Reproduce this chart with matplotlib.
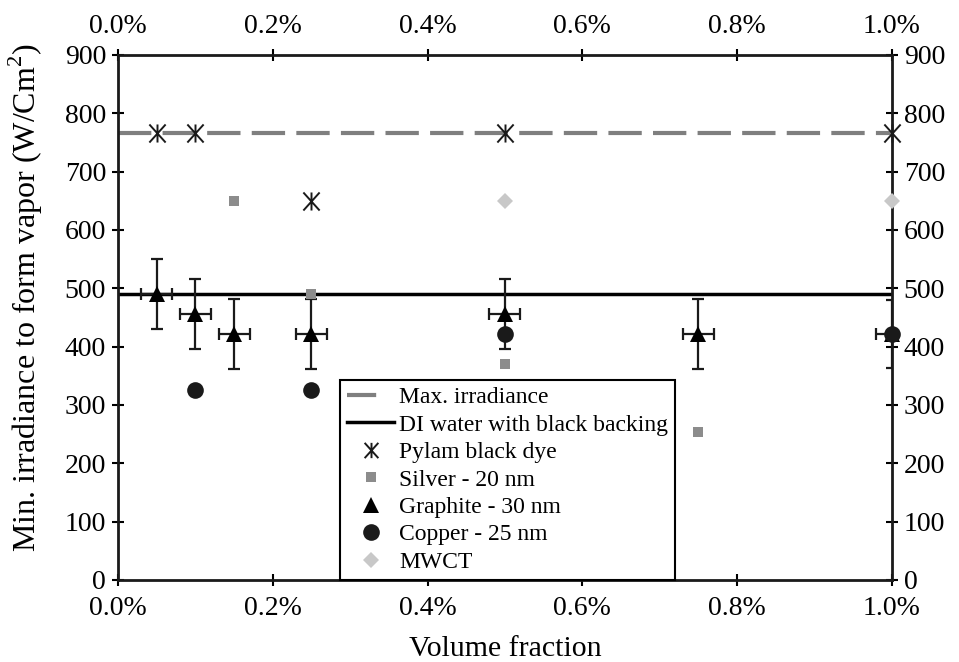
import numpy as np
import matplotlib
matplotlib.use("Agg")
import matplotlib.pyplot as plt
from matplotlib.ticker import FuncFormatter, MultipleLocator
from matplotlib.lines import Line2D
from matplotlib.path import Path

plt.rcParams['font.family'] = ['Liberation Serif', 'DejaVu Serif']
plt.rcParams['mathtext.fontset'] = 'custom'
plt.rcParams['mathtext.rm'] = 'Liberation Serif'

# volume fraction in percent
max_irr = 767
di_water = 490

pylam_x = [0.05, 0.1, 0.25, 0.5, 1.0]
pylam_y = [767, 767, 650, 767, 767]

silver_x = [0.15, 0.25, 0.5, 0.75]
silver_y = [650, 490, 370, 253]

graphite_x = [0.05, 0.1, 0.15, 0.25, 0.5, 0.75, 1.0]
graphite_y = [490, 456, 422, 422, 456, 422, 422]
graphite_yerr = [60, 60, 60, 60, 60, 60, 58]
graphite_xerr = [0.02, 0.02, 0.02, 0.02, 0.02, 0.02, 0.02]

copper_x = [0.1, 0.25, 0.5, 1.0]
copper_y = [325, 325, 422, 422]

mwct_x = [0.5, 1.0]
mwct_y = [650, 650]

# x with a vertical stroke, like the dye marker in the original
star = Path([(-0.9, -1), (0.9, 1), (-0.9, 1), (0.9, -1), (0, -1), (0, 1)],
            [Path.MOVETO, Path.LINETO, Path.MOVETO, Path.LINETO, Path.MOVETO, Path.LINETO])

fig, ax = plt.subplots(figsize=(9.59, 6.62), dpi=100)
fig.subplots_adjust(left=0.123, right=0.930, bottom=0.124, top=0.917)

ax.axhline(max_irr, color='#7f7f7f', lw=3, dashes=(8, 2.7), zorder=2)
ax.axhline(di_water, color='black', lw=2.5, zorder=2)

ax.errorbar(graphite_x, graphite_y, yerr=graphite_yerr, xerr=graphite_xerr, fmt='none',
            ecolor='#1a1a1a', elinewidth=1.6, capsize=4, capthick=1.6, zorder=3)

ax.plot(pylam_x, pylam_y, ls='none', marker=star, ms=13, mew=1.4, color='#1a1a1a',
        zorder=4, clip_on=False)
ax.plot(silver_x, silver_y, ls='none', marker='s', ms=7, color='#8c8c8c', mew=0, zorder=4)
ax.plot(graphite_x, graphite_y, ls='none', marker='^', ms=12, color='black', mew=0,
        zorder=5, clip_on=False)
ax.plot(copper_x, copper_y, ls='none', marker='o', ms=12, color='#1a1a1a', mew=0,
        zorder=6, clip_on=False)
ax.plot(mwct_x, mwct_y, ls='none', marker='D', ms=8, color='#c8c8c8', mew=0,
        zorder=4, clip_on=False)

handles = [
    Line2D([], [], color='#7f7f7f', lw=3, dashes=(7, 6)),
    Line2D([], [], color='black', lw=2.5),
    Line2D([], [], ls='none', marker=star, ms=11, mew=1.4, color='#1a1a1a'),
    Line2D([], [], ls='none', marker='s', ms=7, color='#8c8c8c', mew=0),
    Line2D([], [], ls='none', marker='^', ms=12, color='black', mew=0),
    Line2D([], [], ls='none', marker='o', ms=12, color='#1a1a1a', mew=0),
    Line2D([], [], ls='none', marker='D', ms=8, color='#c8c8c8', mew=0),
]
labels = ['Max. irradiance', 'DI water with black backing', 'Pylam black dye',
          'Silver - 20 nm', 'Graphite - 30 nm', 'Copper - 25 nm', 'MWCT']

ax.set_xlim(0, 1.0)
ax.set_ylim(0, 900)
ax.xaxis.set_major_locator(MultipleLocator(0.2))
ax.yaxis.set_major_locator(MultipleLocator(100))
ax.xaxis.set_major_formatter(FuncFormatter(lambda v, p: f"{v:.1f}%"))

ax.tick_params(direction='inout', length=9, width=1.5, labelsize=20,
               top=True, right=True, labeltop=True, labelright=True)
ax.tick_params(axis='x', pad=7)
ax.tick_params(axis='y', pad=4)
for s in ax.spines.values():
    s.set_linewidth(2)
    s.set_color('#1a1a1a')

ax.set_xlabel('Volume fraction', fontsize=21.5, labelpad=11)
ax.set_ylabel('Min. irradiance to form vapor (W/Cm$^2$)', fontsize=23)
ax.yaxis.set_label_coords(-0.094, 0.537)

leg = ax.legend(handles, labels, loc='lower left', bbox_to_anchor=(0.287, 0.0), fontsize=17,
                frameon=True, fancybox=False, edgecolor='black', framealpha=1,
                borderpad=0.3, labelspacing=0.25, handlelength=2.0, handletextpad=0.2,
                borderaxespad=0)
leg.get_frame().set_linewidth(1.5)

fig.savefig('out.png', dpi=100)
